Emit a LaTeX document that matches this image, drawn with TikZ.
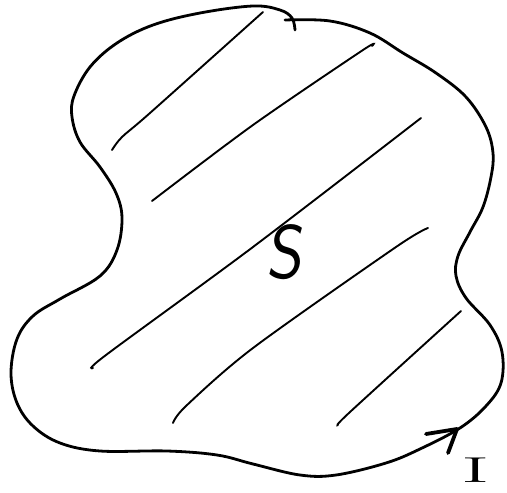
\documentclass[tikz,border=0pt]{standalone}
\begin{document}
\begin{tikzpicture}[x=1pt,y=-1pt,
  outline/.style={line width=2.8pt,line cap=round,line join=round},
  hatch/.style={line width=1.9pt,line cap=round},
  tip/.style={line width=3.8pt,line cap=round,line join=round}]
\useasboundingbox (0,0) rectangle (507,493);
% boundary curve
\draw[outline] plot[smooth,tension=0.6] coordinates {
 (285,20) (330,21) (370,33) (403,53) (436,73) (466,97) (486,127) (493,153)
 (491,177) (483,207) (470,232) (458,256) (456,276) (466,298) (490,325)
 (502,352) (501,383) (486,406) (460,428) (420,449) (386,463) (336,475)
 (300,475) (253,464) (217,455) (167,451) (100,451) (60,443) (33,426)
 (17,403) (11,373) (17,339) (33,316) (60,299) (100,276) (117,250)
 (122,218) (116,193) (100,167) (80,142) (72,117) (74,96) (90,67)
 (117,43) (153,25) (200,13) (253,6) (280,10) (292,18) (295,30)};
% hatching
\draw[hatch] plot[smooth,tension=0.5] coordinates {(112,150) (122,137) (150,113) (263,12)};
\draw[hatch] plot[smooth,tension=0.5] coordinates {(152,201) (253,125) (363,50) (372,46)};
\draw[hatch] plot[smooth,tension=0.5] coordinates {(93,368) (106,355) (253,247) (421,118)};
\draw[hatch] plot[smooth,tension=0.5] coordinates {(173,423) (186,406) (253,348) (396,247) (428,228)};
\draw[hatch] plot[smooth,tension=0.5] coordinates {(338,425) (350,412) (461,311)};
% orientation arrowhead
\coordinate (tipA) at (426,434);
\coordinate (tipP) at (457,429);
\coordinate (tipB) at (448,453);
\draw[tip] (tipA) -- (tipP) -- (tipB);
% labels
\node[font=\sffamily\fontsize{76}{76}\selectfont, xslant=0.12, xscale=0.9] (S) at (288,252) {S};
\node[font=\fontsize{36}{36}\selectfont, xscale=2.4, inner sep=0pt, anchor=base] (I) at (476,482) {I};
\end{tikzpicture}
\end{document}
